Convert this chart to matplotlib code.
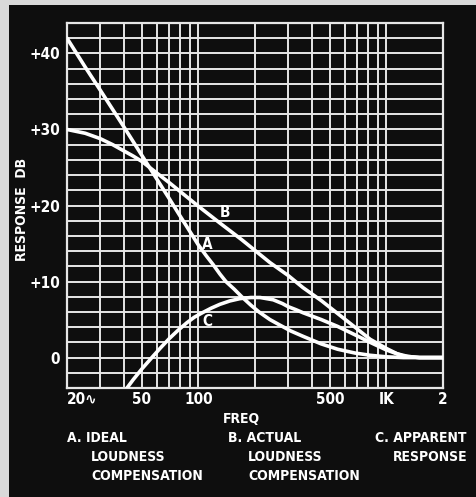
import matplotlib
matplotlib.use("Agg")
import matplotlib.pyplot as plt
from matplotlib.patches import Rectangle

# ---------- data ----------
freq_a = [20, 25, 30, 40, 50, 60, 70, 80, 90, 100, 110, 120, 130, 140, 155, 170, 190, 210, 240, 270, 310,
          360, 450, 550, 680, 820, 1000, 1230, 1500, 2000]
db_a = [42, 38.2, 35.2, 30.4, 26.6, 23.5, 20.9, 18.6, 16.6, 14.8, 13.4, 12.2, 11.0, 10.0, 9.0, 8.0, 6.9, 6.0,
        5.0, 4.3, 3.5, 2.8, 1.8, 1.1, 0.6, 0.3, 0.1, 0.0, 0.0, 0.0]

freq_b = [20, 25, 30, 35, 40, 45, 50, 70, 100, 130, 170, 240, 300, 360, 450, 550, 680, 820, 1000, 1140,
          1300, 1500, 2000]
db_b = [30.0, 29.5, 28.8, 28.0, 27.2, 26.5, 25.8, 23.0, 19.9, 17.7, 15.5, 12.5, 10.8, 9.2, 7.5, 5.8, 4.0,
        2.4, 1.2, 0.5, 0.15, 0.0, 0.0]

freq_c = [41.7, 45, 50, 57, 63, 70, 78, 87, 95, 105, 117, 130, 147, 166, 190, 213, 250, 280, 300, 330,
          360, 450, 550, 680, 820, 1000, 1230, 1500, 2000]
db_c = [-4.0, -2.9, -1.5, 0.1, 1.3, 2.5, 3.6, 4.6, 5.3, 5.9, 6.5, 7.0, 7.45, 7.75, 7.9, 7.9, 7.6, 7.1,
        6.7, 6.3, 5.9, 5.0, 4.1, 3.0, 2.0, 1.0, 0.2, 0.0, 0.0]

xgrid = [20, 30, 40, 50, 60, 70, 80, 90, 100, 200, 300, 400, 500, 600, 700, 800, 900, 1000, 2000]
xticks = [20, 50, 100, 500, 1000, 2000]
xticklabels = ["20\u223f", "50", "100", "500", "IK", "2"]
yticks = [0, 10, 20, 30, 40]
yticklabels = ["0", "+10", "+20", "+30", "+40"]

curve_labels = [("A", 111, 14.9), ("B", 138, 19.1), ("C", 112, 4.7)]

notes = [
    ("A. IDEAL", 67, 438), ("LOUDNESS", 91, 457), ("COMPENSATION", 91, 476),
    ("B. ACTUAL", 228, 438), ("LOUDNESS", 248, 457), ("COMPENSATION", 248, 476),
    ("C. APPARENT", 375, 438), ("RESPONSE", 393, 457),
]

plt.rcParams["font.family"] = ["DejaVu Sans"]
plt.rcParams["font.stretch"] = "condensed"
plt.rcParams["font.weight"] = "bold"
plt.rcParams["axes.labelweight"] = "bold"

# ---------- figure ----------
W, H = 477, 497
fig = plt.figure(figsize=(W / 100, H / 100), dpi=100, facecolor="#d9d9d9")
# black card inside the scanned border
fig.patches.append(Rectangle((9 / W, 0), 1, 1 - 5 / H, transform=fig.transFigure,
                             facecolor="#0e0e0e", edgecolor="none", zorder=-5))

ax = fig.add_axes([67 / W, 1 - 388 / H, (443 - 67) / W, (388 - 23) / H])
ax.set_facecolor("#0e0e0e")
ax.set_xscale("log")
ax.set_xlim(20, 2000)
ax.set_ylim(-4, 44)

grid_col = "#e6e6e6"
for xv in xgrid:
    ax.axvline(xv, color=grid_col, lw=1.4, zorder=1)
for yv in range(-4, 45, 2):
    ax.axhline(yv, color=grid_col, lw=1.4, zorder=1)

for s in ax.spines.values():
    s.set_color(grid_col)
    s.set_linewidth(1.6)

for fr, db in [(freq_a, db_a), (freq_b, db_b), (freq_c, db_c)]:
    ax.plot(fr, db, color="white", lw=2.6, zorder=3,
            solid_capstyle="round", solid_joinstyle="round")

for name, fx, fy in curve_labels:
    ax.text(fx, fy, name, color="white", fontsize=11, ha="center", va="center",
            zorder=4)

ax.set_xticks(xticks)
ax.set_xticklabels(xticklabels)
ax.xaxis.set_minor_locator(matplotlib.ticker.NullLocator())
ax.set_yticks(yticks)
ax.set_yticklabels(yticklabels)
ax.tick_params(length=0, colors="white", labelsize=11)
ax.tick_params(axis="x", pad=3)
ax.tick_params(axis="y", pad=5)
ax.get_xticklabels()[0].set_horizontalalignment("left")

ax.set_ylabel("RESPONSE  DB", color="white", fontsize=10, fontweight="bold")
ax.yaxis.set_label_coords(-0.10, 0.49)

fig.text(241 / W, 1 - 419 / H, "FREQ", color="white", fontsize=10,
         ha="center", va="center")
for txt, px, py in notes:
    fig.text(px / W, 1 - py / H, txt, color="white", fontsize=10,
             ha="left", va="center")

fig.savefig("out.png", dpi=100, facecolor=fig.get_facecolor())
